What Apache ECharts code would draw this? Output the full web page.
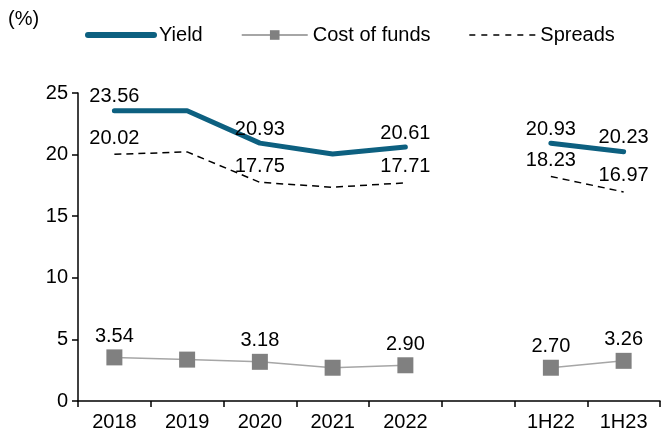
<!DOCTYPE html>
<html>
<head>
<meta charset="utf-8">
<script src="https://cdn.jsdelivr.net/npm/echarts@6/dist/echarts.min.js"></script>
<style>
  html, body { margin: 0; padding: 0; background: #fff; }
  #chart { width: 662px; height: 441px; }
</style>
</head>
<body>
<div id="chart"></div>
<script>
const categories = ['2018', '2019', '2020', '2021', '2022', '', '1H22', '1H23'];
const yieldValues = [23.56, 23.56, 20.93, 20.05, 20.61, null, 20.93, 20.23];
const costValues = [3.54, 3.36, 3.18, 2.70, 2.90, null, 2.70, 3.26];
const spreadValues = [20.02, 20.22, 17.75, 17.35, 17.71, null, 18.23, 16.97];
const labelledCategories = ['2018', '2020', '2022', '1H22', '1H23'];
const yTicks = [0, 5, 10, 15, 20, 25];

const FONT = 'Liberation Sans, Arial, sans-serif';
const FS = 20;

function labelFmt(p) {
  if (p.value == null || labelledCategories.indexOf(categories[p.dataIndex]) < 0) return '';
  return Number(p.value).toFixed(2);
}

const chart = echarts.init(document.getElementById('chart'), null, { renderer: 'canvas' });
chart.setOption({
  animation: false,
  textStyle: { fontFamily: FONT },
  graphic: [{
    type: 'text', left: 8, top: 9,
    style: { text: '(%)', fontSize: FS, fontFamily: FONT, fill: '#000' }
  }],
  legend: {
    left: 80, top: 20,
    itemWidth: 66, itemHeight: 12, itemGap: 38,
    textStyle: { fontSize: FS, fontFamily: FONT, color: '#000' },
    data: [
      { name: 'Yield', itemStyle: { opacity: 0 }, lineStyle: { width: 6, cap: 'round', color: '#0d6080' } },
      { name: 'Cost of funds', lineStyle: { width: 2, color: '#a6a6a6' } },
      { name: 'Spreads', itemStyle: { opacity: 0 }, lineStyle: { width: 1.5, color: '#000', type: [6, 6] } }
    ]
  },
  grid: { left: 78, right: 2, top: 93, bottom: 40, containLabel: false },
  xAxis: {
    type: 'category',
    data: categories,
    boundaryGap: true,
    axisLine: { lineStyle: { color: '#000', width: 1.5 } },
    axisTick: { show: true, length: 6, lineStyle: { color: '#000', width: 1.5 } },
    axisLabel: { fontSize: FS, fontFamily: FONT, color: '#000', margin: 11, interval: 0 },
    splitLine: { show: false }
  },
  yAxis: {
    type: 'value',
    min: yTicks[0], max: yTicks[yTicks.length - 1], interval: 5,
    axisLine: { show: true, lineStyle: { color: '#000', width: 1.5 } },
    axisTick: { show: true, length: 6, lineStyle: { color: '#000', width: 1.5 } },
    axisLabel: { fontSize: FS, fontFamily: FONT, color: '#000', margin: 10 },
    splitLine: { show: false }
  },
  series: [
    {
      name: 'Yield', type: 'line', data: yieldValues,
      connectNulls: false, symbol: 'circle', symbolSize: 0, showSymbol: true, z: 3,
      lineStyle: { color: '#0d6080', width: 5, cap: 'round', join: 'round' },
      itemStyle: { color: '#0d6080' },
      label: { show: true, position: 'top', distance: 4, formatter: labelFmt, fontSize: FS, fontFamily: FONT, color: '#000' }
    },
    {
      name: 'Cost of funds', type: 'line', data: costValues,
      connectNulls: false, symbol: 'rect', symbolSize: 16, z: 3,
      lineStyle: { color: '#a6a6a6', width: 1.5 },
      itemStyle: { color: '#808080' },
      label: { show: true, position: 'top', distance: 3, formatter: labelFmt, fontSize: FS, fontFamily: FONT, color: '#000' }
    },
    {
      name: 'Spreads', type: 'line', data: spreadValues,
      connectNulls: false, symbol: 'circle', symbolSize: 0, showSymbol: true, z: 2,
      lineStyle: { color: '#000', width: 1.5, type: [7, 5] },
      itemStyle: { color: '#000' },
      label: { show: true, position: 'top', distance: 6, formatter: labelFmt, fontSize: FS, fontFamily: FONT, color: '#000' }
    }
  ]
});
</script>
</body>
</html>
